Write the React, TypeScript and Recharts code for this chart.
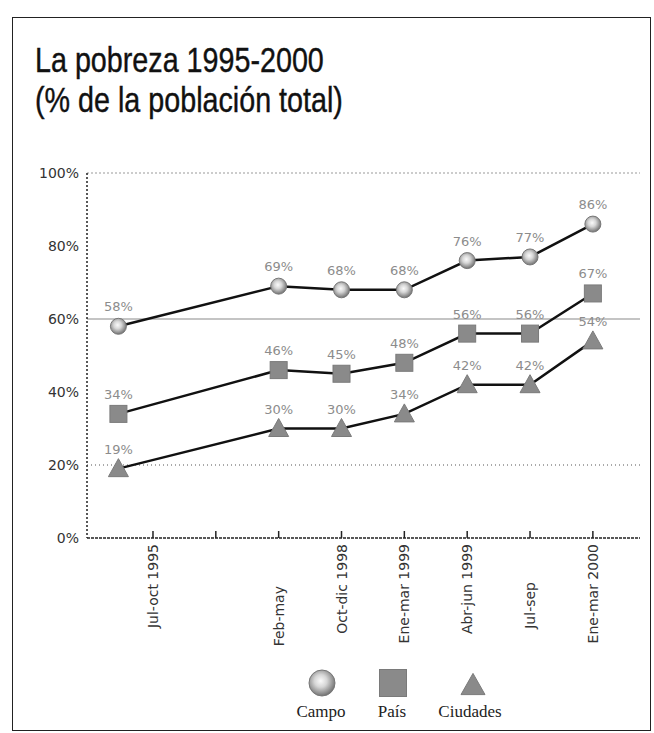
import { Line, LineChart, LabelList, ReferenceLine, XAxis, YAxis } from "recharts";

const periods = [
  "Jul-oct 1995",
  "Feb-may",
  "Oct-dic 1998",
  "Ene-mar 1999",
  "Abr-jun 1999",
  "Jul-sep",
  "Ene-mar 2000",
];
// where each period sits on the (uneven) time axis of the original
const periodPos = [0.45, 3, 4, 5, 6, 7, 8];
const campo = [58, 69, 68, 68, 76, 77, 86];
const pais = [34, 46, 45, 48, 56, 56, 67];
const ciudades = [19, 30, 30, 34, 42, 42, 54];

const tickPos = [1, 2, 3, 4, 5, 6, 7, 8];
const tickLabels = [
  "Jul-oct 1995",
  "",
  "Feb-may",
  "Oct-dic 1998",
  "Ene-mar 1999",
  "Abr-jun 1999",
  "Jul-sep",
  "Ene-mar 2000",
];
const yTicks = [0, 20, 40, 60, 80, 100];

const data = periods.map((p, i) => ({
  period: p,
  pos: periodPos[i],
  campo: campo[i],
  pais: pais[i],
  ciudades: ciudades[i],
}));

const SANS = "'DejaVu Sans', Verdana, sans-serif";
const MARK = "#8a8a8a";

// the short labels hang lower in the original
const LABEL_DROP: Record<string, number> = { "Feb-may": 42, "Jul-sep": 38 };

function Sphere({ cx, cy, r = 8 }: { cx: number; cy: number; r?: number }) {
  return <circle cx={cx} cy={cy} r={r} fill="url(#sphere)" stroke="#777" strokeWidth={1} />;
}

function Square({ cx, cy, s = 17 }: { cx: number; cy: number; s?: number }) {
  return <rect x={cx - s / 2} y={cy - s / 2} width={s} height={s} fill={MARK} stroke="#7a7a7a" />;
}

function Tri({ cx, cy, s = 20 }: { cx: number; cy: number; s?: number }) {
  const h = s * 0.8;
  return (
    <polygon
      points={`${cx},${cy - h / 2 - 2} ${cx + s / 2},${cy + h / 2} ${cx - s / 2},${cy + h / 2}`}
      fill={MARK}
      stroke="#7a7a7a"
    />
  );
}

function XTick(props: any) {
  const { x, y, payload } = props;
  const label = tickLabels[tickPos.indexOf(payload.value)] ?? "";
  const top = y + 6 + (LABEL_DROP[label] ?? 0);
  return (
    <g>
      <line x1={x} y1={y} x2={x} y2={y - 7} stroke="#222" strokeWidth={1.5} />
      {label ? (
        <text
          x={x}
          y={top}
          transform={`rotate(-90 ${x} ${top})`}
          textAnchor="end"
          dominantBaseline="central"
          fontFamily={SANS}
          fontSize={14}
          fill="#333"
        >
          {label}
        </text>
      ) : null}
    </g>
  );
}

const pct = (v: any) => `${v}%`;
const labelStyle = { fill: "#8c8c8c", fontSize: 13, fontFamily: SANS };

export default function App() {
  return (
    <div
      style={{
        position: "absolute",
        left: 0,
        top: 0,
        width: 654,
        height: 733,
        background: "#fff",
        overflow: "hidden",
      }}
    >
      <div
        style={{
          position: "absolute",
          left: 12,
          top: 17,
          width: 637,
          height: 712,
          border: "1.5px solid #222",
        }}
      />
      <div
        style={{
          position: "absolute",
          left: 35,
          top: 40,
          fontFamily: "'Liberation Sans', Arial, sans-serif",
          fontSize: 35,
          lineHeight: "40px",
          color: "#111",
          whiteSpace: "nowrap",
          transform: "scaleX(0.82)",
          transformOrigin: "left top",
          WebkitTextStroke: "0.4px #111",
        }}
      >
        La pobreza 1995-2000
        <br />
        (% de la población total)
      </div>

      <div style={{ position: "absolute", left: 0, top: 0 }}>
        <LineChart
          width={654}
          height={733}
          data={data}
          margin={{ top: 173, right: 14, bottom: 0, left: 0 }}
        >
          <defs>
            <radialGradient id="sphere" cx="45%" cy="42%" r="60%">
              <stop offset="0%" stopColor="#fafafa" />
              <stop offset="40%" stopColor="#d6d6d6" />
              <stop offset="100%" stopColor="#6c6c6c" />
            </radialGradient>
          </defs>
          <XAxis
            type="number"
            dataKey="pos"
            domain={[-0.05, 8.75]}
            ticks={tickPos}
            allowDataOverflow
            height={195}
            tickSize={0}
            tickMargin={0}
            tickLine={false}
            axisLine={{ stroke: "#222", strokeDasharray: "3 1", strokeWidth: 1.5 }}
            tick={<XTick />}
            interval={0}
          />
          <YAxis
            domain={[0, 100]}
            ticks={yTicks}
            width={87}
            tickFormatter={pct}
            tickLine={false}
            axisLine={{ stroke: "#222", strokeDasharray: "2 2", strokeWidth: 1.5 }}
            tick={{ fill: "#333", fontSize: 14, fontFamily: SANS }}
            interval={0}
          />
          <ReferenceLine y={100} stroke="#999" strokeDasharray="2 2" />
          <ReferenceLine y={60} stroke="#c4c4c4" strokeWidth={2} />
          <ReferenceLine y={20} stroke="#555" strokeDasharray="1 3" />

          <Line
            dataKey="campo"
            stroke="#111"
            strokeWidth={2.5}
            isAnimationActive={false}
            dot={(p: any) => <Sphere key={`c${p.index}`} cx={p.cx} cy={p.cy} />}
          >
            <LabelList dataKey="campo" position="top" offset={15} formatter={pct} style={labelStyle} />
          </Line>
          <Line
            dataKey="pais"
            stroke="#111"
            strokeWidth={2.5}
            isAnimationActive={false}
            dot={(p: any) => <Square key={`p${p.index}`} cx={p.cx} cy={p.cy} />}
          >
            <LabelList dataKey="pais" position="top" offset={15} formatter={pct} style={labelStyle} />
          </Line>
          <Line
            dataKey="ciudades"
            stroke="#111"
            strokeWidth={2.5}
            isAnimationActive={false}
            dot={(p: any) => <Tri key={`u${p.index}`} cx={p.cx} cy={p.cy} />}
          >
            <LabelList dataKey="ciudades" position="top" offset={15} formatter={pct} style={labelStyle} />
          </Line>
        </LineChart>
      </div>

      <svg width={654} height={70} style={{ position: "absolute", left: 0, top: 660 }}>
        <defs>
          <radialGradient id="sphereLeg" cx="45%" cy="42%" r="60%">
            <stop offset="0%" stopColor="#fafafa" />
            <stop offset="40%" stopColor="#d6d6d6" />
            <stop offset="100%" stopColor="#6c6c6c" />
          </radialGradient>
        </defs>
        <circle cx={322} cy={23} r={13} fill="url(#sphereLeg)" stroke="#777" />
        <Square cx={393} cy={23} s={27} />
        <Tri cx={473} cy={25} s={24} />
        {[
          { x: 321, t: "Campo" },
          { x: 392, t: "País" },
          { x: 470, t: "Ciudades" },
        ].map((l) => (
          <text
            key={l.t}
            x={l.x}
            y={57}
            textAnchor="middle"
            fontFamily="'Liberation Serif', 'Times New Roman', serif"
            fontSize={17}
            fill="#222"
          >
            {l.t}
          </text>
        ))}
      </svg>
    </div>
  );
}
